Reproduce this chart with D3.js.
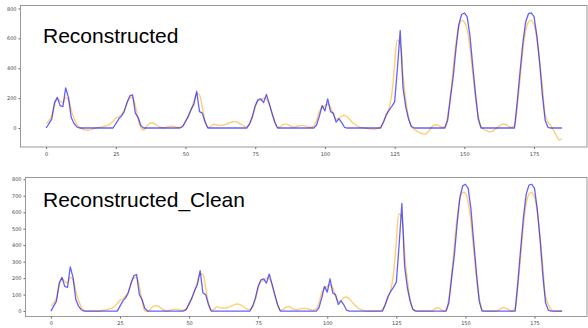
<!DOCTYPE html>
<html>
<head>
<meta charset="utf-8">
<script src="https://cdn.jsdelivr.net/npm/d3@7"></script>
<style>
  body { margin: 0; background: #fff; }
  svg { display: block; }
</style>
</head>
<body>
<div id="chart"></div>
<script>
// original signal (blue), one value per step 0..185
const original = [
  0, 30, 60, 170, 205, 150, 143, 268, 205, 70, 30, 8,
  0, 0, 0, 0, 0, 0, 0, 0, 0, 0, 0, 0, 0,
  30, 60, 80, 110, 170, 215, 222, 100, 70, 15,
  0, 0, 0, 0, 0, 0, 0, 0, 0, 0, 0, 0, 0, 0,
  10, 45, 80, 125, 160, 246, 110, 100, 40,
  0, 0, 0, 0, 0, 0, 0, 0, 0, 0, 0, 0, 0, 0, 0,
  30, 80, 150, 190, 195, 170, 225, 165, 100, 40,
  0, 0, 0, 0, 0, 0, 0, 0, 0, 0, 0, 0, 0, 0,
  20, 80, 150, 115, 195, 110, 100, 40, 62, 38, 5,
  0, 0, 0, 0, 0, 0, 0, 0, 0, 0, 0, 0, 0,
  40, 90, 120, 145, 175, 400, 653, 270, 140, 60, 10,
  0, 0, 0, 0, 0, 0, 0, 0, 0, 0, 0, 0,
  50, 200, 340, 530, 690, 760, 770, 745, 620, 420, 230, 60,
  0, 0, 0, 0, 0, 0, 0, 0, 0, 0, 0, 0, 0,
  180, 380, 570, 710, 765, 770, 745, 620, 440, 220, 50, 5,
  0, 0, 0, 0, 0
];

// reconstruction (orange), top panel
const reconstructed = [
  30, 50, 80, 150, 195, 180, 170, 205, 190, 120, 65, 25,
  5, -8, -13, -15, -12, -5, 2, 5, 8, 12, 18, 28, 45,
  65, 75, 90, 120, 165, 200, 205, 150, 60, 0,
  -13, 10, 30, 35, 28, 15, 5, 2, 5, 10, 12, 10, 5, 5,
  15, 40, 75, 120, 180, 230, 220, 140, 50,
  5, 10, 25, 22, 18, 18, 22, 28, 36, 42, 42, 35, 22, 12, 10,
  25, 70, 140, 180, 185, 200, 195, 160, 100, 40,
  5, 10, 22, 28, 20, 10, 8, 12, 16, 18, 14, 8, 5, 15,
  50, 110, 140, 150, 160, 140, 90, 60, 65, 80, 85,
  75, 55, 35, 20, 10, 4, 0, -3, -5, -7, -7, -3, 10,
  40, 80, 130, 230, 420, 590, 560, 350, 190, 70, 10,
  -10, -20, -30, -38, -40, -25, 0, 18, 22, 15, 5, 10,
  80, 220, 400, 570, 680, 720, 710, 660, 540, 370, 200, 80,
  10, -10, -18, -25, -22, -10, 5, 20, 27, 22, 10, 5, 20,
  150, 330, 520, 650, 710, 720, 690, 600, 450, 280, 90, 40,
  15, -15, -50, -80, -70
];

// reconstruction after cleaning (orange), bottom panel
const reconstructedClean = [
  30, 50, 80, 150, 195, 180, 170, 205, 190, 120, 65, 25,
  5, 0, 0, 0, 0, 0, 2, 5, 8, 12, 18, 28, 45,
  65, 75, 90, 120, 165, 200, 205, 150, 60, 0,
  0, 10, 30, 32, 28, 15, 5, 2, 5, 10, 12, 10, 5, 5,
  15, 40, 75, 120, 180, 225, 220, 140, 50,
  5, 10, 25, 22, 18, 18, 22, 28, 36, 42, 42, 35, 22, 12, 10,
  25, 70, 140, 180, 185, 200, 195, 160, 100, 40,
  5, 10, 22, 28, 20, 10, 8, 12, 16, 18, 14, 8, 5, 15,
  50, 110, 140, 150, 160, 140, 90, 60, 65, 80, 85,
  75, 55, 35, 20, 10, 4, 0, 0, 0, 0, 0, 0, 10,
  40, 80, 130, 230, 420, 590, 560, 350, 190, 70, 10,
  0, 0, 0, 0, 0, 0, 0, 15, 20, 12, 0, 5,
  80, 220, 400, 570, 680, 720, 715, 660, 540, 370, 200, 80,
  10, 0, 0, 0, 0, 0, 5, 18, 22, 15, 5, 0, 20,
  150, 330, 520, 650, 710, 720, 690, 600, 450, 280, 90, 40,
  10, 0, 0, 0, 0
];

const xTicks = [0, 25, 50, 75, 100, 125, 150, 175];
const yTicksTop = [0, 200, 400, 600, 800];
const yTicksBottom = [0, 100, 200, 300, 400, 500, 600, 700, 800];

const width = 588;
const height = 328;

const svg = d3.select('#chart')
  .append('svg')
  .attr('width', width)
  .attr('height', height);

function drawPanel(opts) {
  const x = d3.scaleLinear().domain([-9.2, 194]).range([opts.left, opts.right]);
  const y = d3.scaleLinear().domain(opts.yDomain).range([opts.bottom, opts.top]);

  const g = svg.append('g');

  // x axis
  const xAxis = g.append('g')
    .attr('transform', `translate(0,${opts.bottom})`)
    .call(d3.axisBottom(x).tickValues(xTicks).tickSize(2).tickPadding(3).tickSizeOuter(0));
  // y axis
  const yAxis = g.append('g')
    .attr('transform', `translate(${opts.left},0)`)
    .call(d3.axisLeft(y).tickValues(opts.yTicks).tickSize(2).tickPadding(2).tickSizeOuter(0));

  [xAxis, yAxis].forEach((a) => {
    a.select('.domain').remove();
    a.selectAll('.tick line').attr('stroke', '#666');
    a.selectAll('.tick text')
      .attr('fill', '#444')
      .style('font-family', 'DejaVu Sans, sans-serif')
      .style('font-size', '5px');
  });

  const line = (vals, curve) => d3.line()
    .x((d, i) => x(i))
    .y((d) => y(d))
    .curve(curve)(vals);

  // the reconstruction is smooth in the original, so give it a smooth curve
  g.append('path')
    .attr('d', line(opts.recon, d3.curveCatmullRom.alpha(0.5)))
    .attr('fill', 'none')
    .attr('stroke', '#ffa500')
    .attr('stroke-opacity', 0.55)
    .attr('stroke-width', 1.4)
    .attr('stroke-linejoin', 'round');

  g.append('path')
    .attr('d', line(original, d3.curveLinear))
    .attr('fill', 'none')
    .attr('stroke', '#0000ff')
    .attr('stroke-opacity', 0.62)
    .attr('stroke-width', 1.3)
    .attr('stroke-linejoin', 'round');

  // frame
  g.append('rect')
    .attr('x', opts.left)
    .attr('y', opts.top)
    .attr('width', opts.right - opts.left)
    .attr('height', opts.bottom - opts.top)
    .attr('fill', 'none')
    .attr('stroke', '#999')
    .attr('stroke-width', 1);

  g.append('text')
    .attr('x', 43)
    .attr('y', opts.titleY)
    .style('font-family', 'Liberation Sans, Arial, sans-serif')
    .style('font-size', '21px')
    .attr('fill', '#000')
    .text(opts.title);
}

drawPanel({
  left: 20.5, right: 587, top: 5.5, bottom: 147,
  yDomain: [-127, 820], yTicks: yTicksTop,
  recon: reconstructed, title: 'Reconstructed', titleY: 42.7,
});

drawPanel({
  left: 25.5, right: 587, top: 177.5, bottom: 316.5,
  yDomain: [-33, 811], yTicks: yTicksBottom,
  recon: reconstructedClean, title: 'Reconstructed_Clean', titleY: 206.7,
});
</script>
</body>
</html>
